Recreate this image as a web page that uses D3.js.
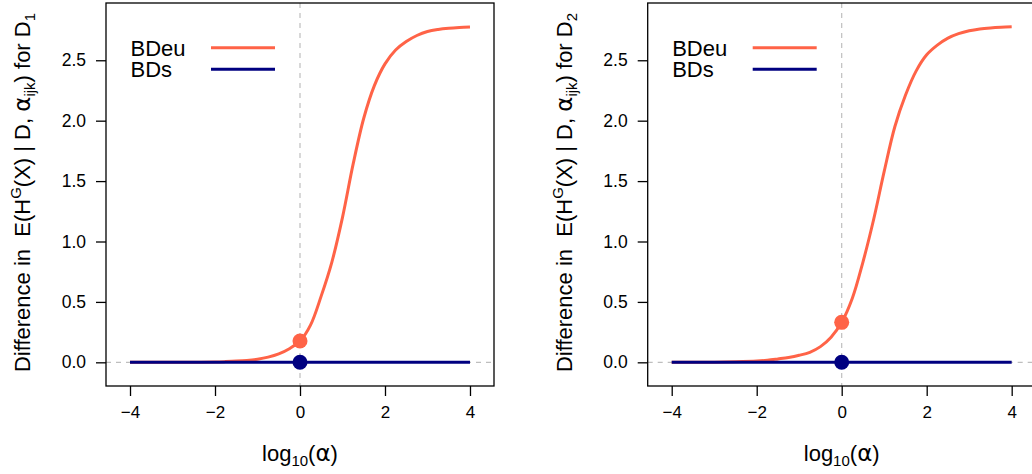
<!DOCTYPE html>
<html>
<head>
<meta charset="utf-8">
<script src="https://cdn.jsdelivr.net/npm/d3@7"></script>
<style>
  html, body { margin: 0; padding: 0; background: #fff; }
  svg { display: block; font-family: "Liberation Sans", Arial, sans-serif; }
</style>
</head>
<body>
<svg id="chart" width="1032" height="474"></svg>
<script>
// ---------- data ----------
const logAlpha = [-4, -3.5, -3, -2.5, -2, -1.75, -1.5, -1.25, -1, -0.75, -0.5, -0.25, 0,
                  0.25, 0.5, 0.75, 1, 1.25, 1.5, 1.75, 2, 2.25, 2.5, 2.75, 3, 3.25, 3.5, 3.75, 4];
const bdeuD1 = [0, 0, 0, 0.001, 0.003, 0.006, 0.010, 0.016, 0.026, 0.043, 0.070, 0.113, 0.176,
                0.31, 0.55, 0.83, 1.20, 1.64, 2.02, 2.29, 2.47, 2.585, 2.655, 2.705, 2.738, 2.755, 2.765, 2.771, 2.775];
const bdeuD2 = [0, 0, 0.001, 0.004, 0.010, 0.017, 0.028, 0.040, 0.058, 0.083, 0.130, 0.208, 0.331,
                0.53, 0.83, 1.18, 1.58, 1.95, 2.21, 2.41, 2.545, 2.625, 2.683, 2.72, 2.744, 2.759, 2.768, 2.774, 2.778];
const bdsD1 = logAlpha.map(() => 0);
const bdsD2 = logAlpha.map(() => 0);
const dotX = [0];
const dotBdeu = [0.176, 0.331];   // D1, D2
const dotBds = [0, 0];
const xTicks = [-4, -2, 0, 2, 4];
const yTicks = [0, 0.5, 1.0, 1.5, 2.0, 2.5];
const seriesNames = ["BDeu", "BDs"];
const datasetSub = ["1", "2"];

// ---------- layout ----------
const colors = { BDeu: "#FF6347", BDs: "#000080" };
const panelOffsets = [0, 541.7];
const box = { left: 106, right: 494, top: 3, bottom: 386 };
const x = d3.scaleLinear().domain([-4.565, 4.565]).range([box.left, box.right]);
const y = d3.scaleLinear().domain([-0.196, 2.974]).range([box.bottom, box.top]);

const svg = d3.select("#chart");

const panels = [
  { bdeu: bdeuD1, bds: bdsD1, dot: dotBdeu[0], dotB: dotBds[0], sub: datasetSub[0] },
  { bdeu: bdeuD2, bds: bdsD2, dot: dotBdeu[1], dotB: dotBds[1], sub: datasetSub[1] }
];

panels.forEach((p, i) => {
  const g = svg.append("g").attr("transform", `translate(${panelOffsets[i]},0)`);

  const clipId = "clip" + i;
  g.append("clipPath").attr("id", clipId).append("rect")
    .attr("x", box.left).attr("y", box.top)
    .attr("width", box.right - box.left).attr("height", box.bottom - box.top);
  const plot = g.append("g").attr("clip-path", `url(#${clipId})`);

  // reference dashed lines
  plot.append("line")
    .attr("x1", x(0)).attr("x2", x(0)).attr("y1", box.top).attr("y2", box.bottom)
    .attr("stroke", "#BEBEBE").attr("stroke-width", 1.2).attr("stroke-dasharray", "5,5");
  plot.append("line")
    .attr("x1", box.left).attr("x2", box.right).attr("y1", y(0)).attr("y2", y(0))
    .attr("stroke", "#BEBEBE").attr("stroke-width", 1.2).attr("stroke-dasharray", "5,5");

  const line = d3.line().x((d, j) => x(logAlpha[j])).y(d => y(d)).curve(d3.curveCatmullRom.alpha(0.5));
  plot.append("path").datum(p.bdeu).attr("d", line)
    .attr("fill", "none").attr("stroke", colors.BDeu).attr("stroke-width", 3);
  plot.append("path").datum(p.bds).attr("d", line)
    .attr("fill", "none").attr("stroke", colors.BDs).attr("stroke-width", 3);

  plot.append("circle").attr("cx", x(dotX[0])).attr("cy", y(p.dot)).attr("r", 7.5).attr("fill", colors.BDeu);
  plot.append("circle").attr("cx", x(dotX[0])).attr("cy", y(p.dotB)).attr("r", 7.5).attr("fill", colors.BDs);

  // box
  g.append("rect")
    .attr("x", box.left).attr("y", box.top)
    .attr("width", box.right - box.left).attr("height", box.bottom - box.top)
    .attr("fill", "none").attr("stroke", "#000").attr("stroke-width", 1.3);

  // axes
  const xAxis = g.append("g").attr("transform", `translate(0,${box.bottom})`)
    .call(d3.axisBottom(x).tickValues(xTicks).tickSize(10).tickSizeOuter(0).tickPadding(10));
  xAxis.select(".domain").remove();
  xAxis.selectAll(".tick line").attr("stroke", "#000").attr("stroke-width", 1.3);
  xAxis.selectAll(".tick text").attr("font-size", 17).attr("fill", "#000")
    .attr("font-family", "Liberation Sans, Arial, sans-serif");

  const yAxis = g.append("g").attr("transform", `translate(${box.left},0)`)
    .call(d3.axisLeft(y).tickValues(yTicks).tickFormat(d3.format(".1f")).tickSize(10).tickSizeOuter(0).tickPadding(10));
  yAxis.select(".domain").remove();
  yAxis.selectAll(".tick line").attr("stroke", "#000").attr("stroke-width", 1.3);
  yAxis.selectAll(".tick text").attr("font-size", 17.5).attr("fill", "#000")
    .attr("font-family", "Liberation Sans, Arial, sans-serif");

  // x label
  const xl = g.append("text")
    .attr("x", (box.left + box.right) / 2).attr("y", 461)
    .attr("text-anchor", "middle").attr("font-size", 22).attr("fill", "#000");
  xl.append("tspan").text("log");
  xl.append("tspan").attr("font-size", 15).attr("dy", 5).text("10");
  xl.append("tspan").attr("dy", -5).text("(");
  xl.append("tspan").attr("font-family", "DejaVu Sans").attr("font-size", 23).text("α");
  xl.append("tspan").text(")");

  // y label
  const yl = g.append("text")
    .attr("transform", `translate(30,${(box.top + box.bottom) / 2 - 2}) rotate(-90)`)
    .attr("text-anchor", "middle").attr("font-size", 22).attr("fill", "#000");
  yl.append("tspan").text("Difference in\u00A0\u00A0E(H");
  yl.append("tspan").attr("font-size", 15).attr("dy", -9).text("G");
  yl.append("tspan").attr("dy", 9).text("(X) | D, ");
  yl.append("tspan").attr("font-family", "DejaVu Sans").attr("font-size", 23).text("α");
  yl.append("tspan").attr("font-size", 15).attr("dy", 5).text("ijk");
  yl.append("tspan").attr("dy", -5).text(") for D");
  yl.append("tspan").attr("font-size", 15).attr("dy", 5).text(p.sub);

  // legend
  const leg = g.append("g");
  seriesNames.forEach((name, k) => {
    const by = 55.7 + k * 21.6;
    leg.append("text").attr("x", 130.5).attr("y", by).attr("font-size", 22).attr("fill", "#000").text(name);
    leg.append("line").attr("x1", 211).attr("x2", 275).attr("y1", by - 8).attr("y2", by - 8)
      .attr("stroke", colors[name]).attr("stroke-width", 3);
  });
});
</script>
</body>
</html>
